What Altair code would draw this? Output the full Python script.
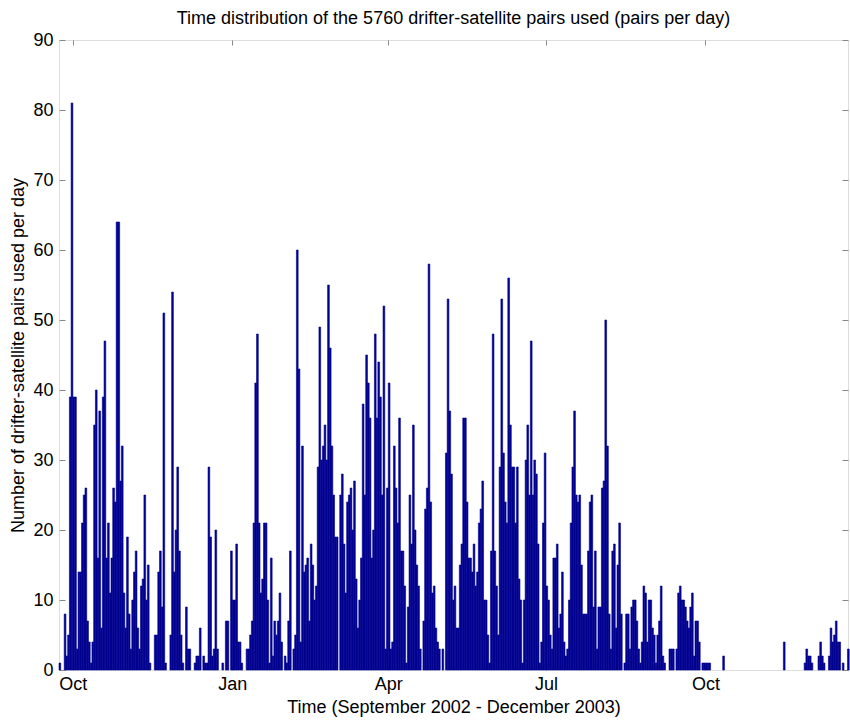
import altair as alt
import pandas as pd

# Day 0 of the series is 23 September 2002 (one bar per day)
start_date = "2002-09-23"

sep_nov_2002 = [1, 0, 0, 8, 2, 5, 39, 81, 39, 39, 3, 14, 14, 21, 25, 26, 7, 4, 1, 4,
                35, 40, 16, 37, 6, 39, 47, 16, 21, 11, 16, 26, 24, 64, 64, 27, 32,
                11, 6, 19, 8, 3, 10, 14, 17, 6, 3, 12, 13, 25, 10, 15, 1, 0, 0, 5, 5,
                14, 17]
nov_jan = [9, 51, 1, 0, 0, 5, 54, 14, 20, 29, 17, 5, 1, 0, 9, 3, 3, 0, 0, 1,
           2, 2, 6, 0, 2, 1, 1, 29, 19, 2, 3, 20, 3, 0, 0, 1, 0, 7, 7, 0,
           17, 10, 10, 18, 4, 4, 1, 0, 0, 3, 3, 5, 7, 21, 41, 48, 21, 11, 13, 21,
           21]
jan_mar = [10, 1, 16, 2, 7, 5, 7, 11, 4, 0, 2, 1, 7, 17, 0, 3, 5, 60, 43, 4,
           32, 14, 15, 16, 7, 18, 15, 10, 12, 29, 49, 30, 32, 35, 30, 55, 46, 32, 25, 19,
           19, 0, 25, 28, 18, 11, 24, 25, 26, 20, 27, 13, 6, 10, 16, 38, 25, 45, 41, 36]
mar_may = [16, 20, 48, 36, 44, 39, 25, 52, 3, 26, 41, 3, 4, 32, 26, 21, 36, 17, 17, 12,
           1, 9, 25, 18, 35, 20, 15, 12, 3, 0, 7, 23, 26, 58, 24, 11, 12, 6, 4, 3,
           0, 3, 0, 31, 53, 37, 28, 10, 12, 6, 6, 15, 18, 36, 36, 24, 16, 16, 14, 18,
           12]
may_jul = [14, 21, 23, 27, 10, 10, 5, 1, 17, 48, 17, 12, 5, 29, 53, 31, 24, 21, 56, 35,
           29, 29, 21, 29, 13, 10, 1, 10, 30, 35, 25, 47, 25, 30, 28, 18, 1, 4, 21, 31,
           12, 10, 5, 3, 16, 16, 18, 6, 8, 14, 4, 2, 3, 10, 21, 29, 37, 25, 24, 25]
jul_sep = [15, 8, 8, 8, 17, 24, 25, 9, 17, 3, 9, 9, 26, 27, 50, 32, 8, 3, 17, 18,
           6, 15, 21, 8, 0, 1, 8, 8, 3, 9, 10, 10, 7, 3, 1, 4, 12, 11, 4, 10,
           10, 6, 5, 1, 5, 7, 12, 2, 1, 0, 0, 3, 3, 3, 0, 3, 11, 12, 10, 10,
           9]
sep_dec_2003 = [7, 6, 9, 11, 2, 7, 7, 4, 0, 1,
                1, 1, 1, 1, 0, 0, 0, 0, 0, 0,
                0, 2, 0, 0, 0, 0, 0, 0, 0, 0,
                0, 0, 0, 0, 0, 0, 0, 0, 0, 0,
                0, 0, 0, 0, 0, 0, 0, 0, 0, 0,
                0, 0, 0, 0, 0, 0, 4, 0, 0, 0,
                0, 0, 0, 0, 0, 0, 0, 0, 1, 3,
                2, 2, 1, 0, 0, 0, 2, 4, 2, 1,
                0, 0, 2, 6, 4, 5, 7, 4, 4, 0,
                1, 0, 0, 3]

tick_days = [8, 100, 190, 281, 373]          # 1 Oct, 1 Jan, 1 Apr, 1 Jul, 1 Oct
tick_months = ["Oct", "Jan", "Apr", "Jul", "Oct"]
y_ticks = [0, 10, 20, 30, 40, 50, 60, 70, 80, 90]

counts = sep_nov_2002 + nov_jan + jan_mar + mar_may + may_jul + jul_sep + sep_dec_2003
df = pd.DataFrame({"day": list(range(len(counts))), "pairs": counts})
df["day_end"] = df["day"] + 1

label_expr = " : ".join(f"datum.value == {d} ? '{m}'" for d, m in zip(tick_days, tick_months)) + " : ''"

FONT = "Liberation Sans"
FRAME = "#4d4d4d"
BAR = "#000090"
x_scale = alt.Scale(domain=[0, 455.3], nice=False, zero=False)
y_scale = alt.Scale(domain=[0, 90], nice=False)

bars = alt.Chart(df).transform_filter("datum.pairs > 0").mark_rect(
    color=BAR, stroke=BAR, strokeWidth=0.6
).encode(
    x=alt.X("day:Q", scale=x_scale,
            axis=alt.Axis(orient="bottom", values=tick_days, labelExpr=label_expr,
                          offset=-5, tickSize=5, domain=False, grid=False,
                          labelPadding=5, labelFontSize=18, labelFlush=False,
                          title="Time (September 2002 - December 2003)",
                          titleFontSize=18, titleFontWeight="normal", titlePadding=5)),
    x2="day_end:Q",
    y=alt.Y("pairs:Q", scale=y_scale,
            axis=alt.Axis(orient="left", values=y_ticks, offset=-6, tickSize=6,
                          domain=False, grid=False, labelPadding=6, labelFontSize=18,
                          title="Number of drifter-satellite pairs used per day",
                          titleFontSize=18, titleFontWeight="normal", titlePadding=5)),
    y2=alt.datum(0),
)

frame_ticks = alt.Chart(df).mark_rect(opacity=0).encode(
    x=alt.X("day:Q", scale=x_scale,
            axis=alt.Axis(orient="top", values=tick_days, labels=False, offset=-5,
                          tickSize=5, domain=False, grid=False, title=None)),
    x2="day_end:Q",
    y=alt.Y("pairs:Q", scale=y_scale,
            axis=alt.Axis(orient="right", values=y_ticks, labels=False, offset=-6,
                          tickSize=6, domain=False, grid=False, title=None)),
    y2=alt.datum(0),
)

chart = alt.layer(bars, frame_ticks).resolve_axis(
    x="independent", y="independent"
).properties(
    width=789,
    height=630,
    padding={"left": 59, "top": 40, "right": 2, "bottom": 54},
    autosize=alt.AutoSizeParams(type="none"),
    title=alt.TitleParams(
        text="Time distribution of the 5760 drifter-satellite pairs used (pairs per day)",
        fontSize=18, font=FONT, fontWeight="normal", color="black", offset=3,
        anchor="middle"),
).configure_view(
    stroke=FRAME, strokeWidth=1
).configure_axis(
    tickColor=FRAME, labelColor="black", titleColor="black",
    labelFont=FONT, titleFont=FONT, titleFontWeight="normal", tickWidth=1
).configure(background="white")

chart.save("out.html", embed_options={"renderer": "svg", "actions": False})
